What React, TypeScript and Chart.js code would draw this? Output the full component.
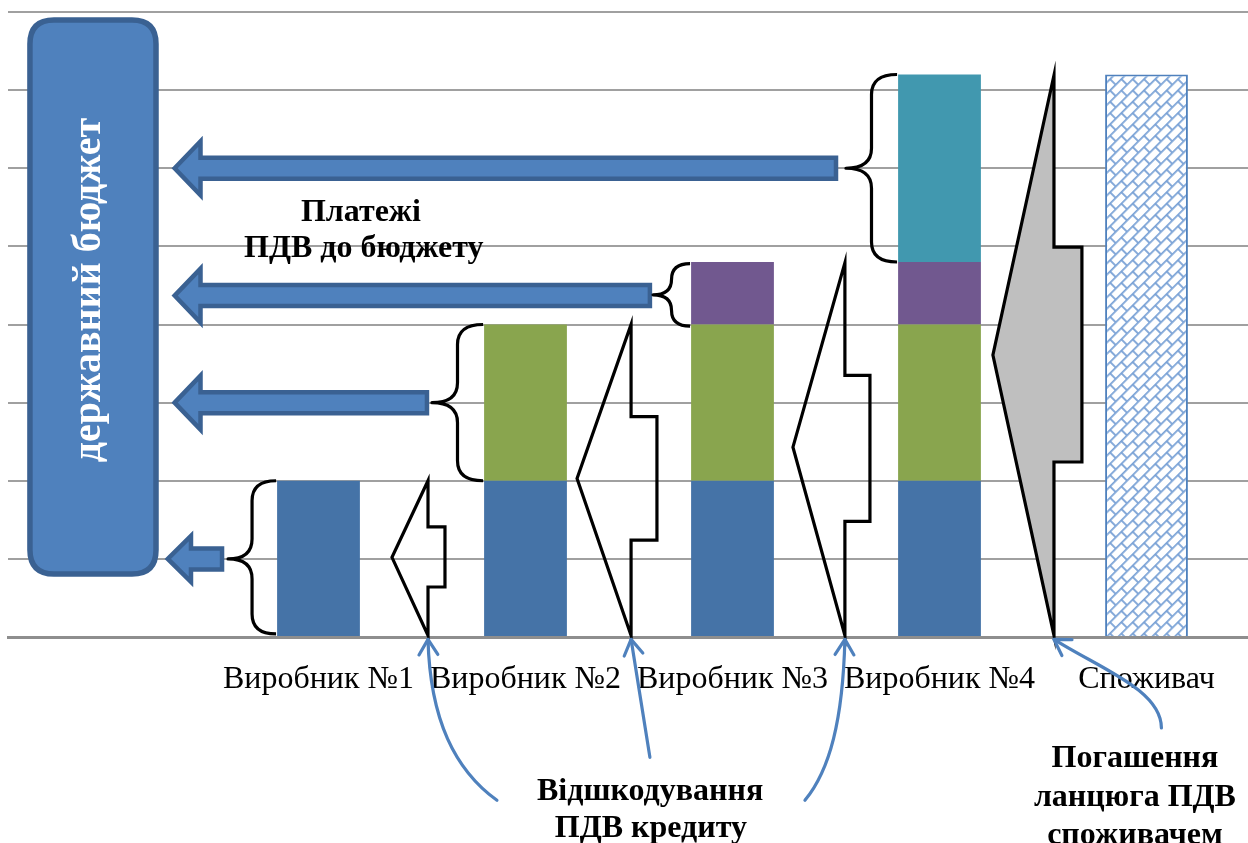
import React, { useEffect, useRef } from "react";
import { Chart, registerables } from "chart.js";

Chart.register(...registerables);

// ---------- data ----------
const categories = ["", "Виробник №1", "Виробник №2", "Виробник №3", "Виробник №4", "Споживач"];
const stage1Values = [null, 2, 2, 2, 2, null];
const stage2Values = [null, null, 2, 2, 2, null];
const stage3Values = [null, null, null, 0.8, 0.8, null];
const stage4Values = [null, null, null, null, 2.4, null];
const consumerValues = [null, null, null, null, null, 7.2];
const yMin = 0;
const yMax = 8;
const yStep = 1;

const budgetLabel = "державний бюджет";
const paymentsLabel = ["Платежі", "ПДВ до бюджету"];
const refundLabel = ["Відшкодування", "ПДВ кредиту"];
const consumerLabel = ["Погашення", "ланцюга ПДВ", "споживачем"];

const SERIF = "'Times New Roman', 'Liberation Serif', serif";

function makeHatch(): CanvasPattern | string {
  const c = document.createElement("canvas");
  c.width = 16;
  c.height = 16;
  const g = c.getContext("2d");
  if (!g) return "#ffffff";
  g.fillStyle = "#ffffff";
  g.fillRect(0, 0, 16, 16);
  g.strokeStyle = "#7aa2d6";
  g.lineWidth = 1.8;
  g.beginPath();
  g.moveTo(0, 0.9);
  g.lineTo(16, 0.9);
  g.moveTo(0, 8.9);
  g.lineTo(16, 8.9);
  g.moveTo(1, 0);
  g.lineTo(1, 8.9);
  g.moveTo(9, 8.9);
  g.lineTo(9, 16);
  g.stroke();
  const p = g.createPattern(c, "repeat");
  if (!p) return "#ffffff";
  try {
    p.setTransform(new DOMMatrix().rotateSelf(0, 0, -45));
  } catch (e) {
    /* ignore */
  }
  return p;
}

const diagramPlugin = {
  id: "vatDiagram",
  afterDatasetsDraw(chart: any) {
    const ctx: CanvasRenderingContext2D = chart.ctx;
    const xs = chart.scales.x;
    const ys = chart.scales.y;
    const X = (i: number) => xs.getPixelForValue(i);
    const Y = (v: number) => ys.getPixelForValue(v);

    ctx.save();
    ctx.lineJoin = "miter";

    // --- budget box ---
    {
      const x0 = X(-0.394), x1 = X(0.215), y0 = Y(7.898), y1 = Y(0.806);
      const r = 24;
      ctx.beginPath();
      ctx.moveTo(x0 + r, y0);
      ctx.lineTo(x1 - r, y0);
      ctx.quadraticCurveTo(x1, y0, x1, y0 + r);
      ctx.lineTo(x1, y1 - r);
      ctx.quadraticCurveTo(x1, y1, x1 - r, y1);
      ctx.lineTo(x0 + r, y1);
      ctx.quadraticCurveTo(x0, y1, x0, y1 - r);
      ctx.lineTo(x0, y0 + r);
      ctx.quadraticCurveTo(x0, y0, x0 + r, y0);
      ctx.closePath();
      ctx.fillStyle = "#4f81bd";
      ctx.fill();
      ctx.lineWidth = 5.5;
      ctx.strokeStyle = "#3a6192";
      ctx.stroke();

      ctx.save();
      ctx.translate(X(-0.104), Y(4.44));
      ctx.rotate(-Math.PI / 2);
      ctx.fillStyle = "#ffffff";
      ctx.font = `bold 40px ${SERIF}`;
      ctx.textAlign = "center";
      ctx.textBaseline = "middle";
      ctx.fillText(budgetLabel, 0, 0);
      ctx.restore();
    }

    // --- block arrows to budget ---
    const arrows = [
      { tip: 0.305, base: 0.43, end: 3.5, v: 6.0, head: 27, shaft: 10.5 },
      { tip: 0.305, base: 0.43, end: 2.601, v: 4.37, head: 27, shaft: 10.5 },
      { tip: 0.305, base: 0.43, end: 1.524, v: 3.0, head: 27, shaft: 10.5 },
      { tip: 0.272, base: 0.384, end: 0.534, v: 1.0, head: 23, shaft: 10.5 },
    ];
    arrows.forEach((a) => {
      const tx = X(a.tip), bx = X(a.base), ex = X(a.end), yc = Y(a.v);
      ctx.beginPath();
      ctx.moveTo(tx, yc);
      ctx.lineTo(bx, yc - a.head);
      ctx.lineTo(bx, yc - a.shaft);
      ctx.lineTo(ex, yc - a.shaft);
      ctx.lineTo(ex, yc + a.shaft);
      ctx.lineTo(bx, yc + a.shaft);
      ctx.lineTo(bx, yc + a.head);
      ctx.closePath();
      ctx.fillStyle = "#4f81bd";
      ctx.fill();
      ctx.lineWidth = 4.5;
      ctx.strokeStyle = "#3a6192";
      ctx.stroke();
    });

    // --- curly braces ---
    const braces = [
      { point: 0.563, tip: 0.795, top: 2.0, bot: 0.04, mid: 1.0 },
      { point: 1.548, tip: 1.795, top: 4.0, bot: 2.0, mid: 3.0 },
      { point: 2.616, tip: 2.795, top: 4.78, bot: 3.98, mid: 4.38 },
      { point: 3.548, tip: 3.795, top: 7.2, bot: 4.8, mid: 6.0 },
    ];
    ctx.strokeStyle = "#000000";
    ctx.lineWidth = 3.2;
    ctx.lineJoin = "round";
    braces.forEach((b) => {
      const xp = X(b.point), xt = X(b.tip);
      const yt = Y(b.top), yb = Y(b.bot), ym = Y(b.mid);
      const xsp = (xp + xt) / 2;
      const r = Math.min(20, (yb - yt) / 4);
      ctx.beginPath();
      ctx.moveTo(xt, yt);
      ctx.quadraticCurveTo(xsp, yt, xsp, yt + r);
      ctx.lineTo(xsp, ym - r);
      ctx.quadraticCurveTo(xsp, ym, xp, ym);
      ctx.quadraticCurveTo(xsp, ym, xsp, ym + r);
      ctx.lineTo(xsp, yb - r);
      ctx.quadraticCurveTo(xsp, yb, xt, yb);
      ctx.stroke();
    });

    // --- pentagon (credit) shapes ---
    const shapes = [
      { line: 1.529, tip: 1.355, tipV: 1.02, top: 2.0, bot: 0.02, notch: 1.611, nTop: 1.41, nBot: 0.64, fill: null },
      { line: 2.51, tip: 2.249, tipV: 2.03, top: 4.0, bot: 0.02, notch: 2.635, nTop: 2.82, nBot: 1.24, fill: null },
      { line: 3.543, tip: 3.292, tipV: 2.43, top: 4.79, bot: 0.02, notch: 3.664, nTop: 3.35, nBot: 1.48, fill: null },
      { line: 4.553, tip: 4.258, tipV: 3.61, top: 7.19, bot: 0.02, notch: 4.688, nTop: 4.99, nBot: 2.24, fill: "#bfbfbf" },
    ];
    ctx.lineJoin = "miter";
    shapes.forEach((s) => {
      const lx = X(s.line), tx = X(s.tip), nx = X(s.notch);
      ctx.beginPath();
      ctx.moveTo(lx, Y(s.top));
      ctx.lineTo(lx, Y(s.nTop));
      ctx.lineTo(nx, Y(s.nTop));
      ctx.lineTo(nx, Y(s.nBot));
      ctx.lineTo(lx, Y(s.nBot));
      ctx.lineTo(lx, Y(s.bot));
      ctx.lineTo(tx, Y(s.tipV));
      ctx.closePath();
      if (s.fill) {
        ctx.fillStyle = s.fill;
        ctx.fill();
      }
      ctx.lineWidth = 3.2;
      ctx.strokeStyle = "#000000";
      ctx.stroke();
    });

    // --- curved pointer arrows ---
    const curves = [
      [[1.862, -2.09], [1.659, -1.7], [1.539, -1.06], [1.529, -0.03]],
      [[2.601, -1.54], [2.57, -1.03], [2.54, -0.52], [2.51, -0.03]],
      [[3.35, -2.09], [3.471, -1.7], [3.533, -1.06], [3.543, -0.03]],
      [[5.072, -1.165], [5.072, -0.678], [4.773, -0.4], [4.553, -0.03]],
    ];
    ctx.strokeStyle = "#4f81bd";
    ctx.lineWidth = 3.2;
    ctx.lineCap = "round";
    ctx.lineJoin = "round";
    curves.forEach((c) => {
      const p = c.map(([i, v]) => [X(i), Y(v)]);
      ctx.beginPath();
      ctx.moveTo(p[0][0], p[0][1]);
      ctx.bezierCurveTo(p[1][0], p[1][1], p[2][0], p[2][1], p[3][0], p[3][1]);
      ctx.stroke();
      const ang = Math.atan2(p[3][1] - p[2][1], p[3][0] - p[2][0]);
      const L = 18;
      const spread = 0.55;
      ctx.beginPath();
      ctx.moveTo(p[3][0] - L * Math.cos(ang - spread), p[3][1] - L * Math.sin(ang - spread));
      ctx.lineTo(p[3][0], p[3][1]);
      ctx.lineTo(p[3][0] - L * Math.cos(ang + spread), p[3][1] - L * Math.sin(ang + spread));
      ctx.stroke();
    });

    // --- bold captions ---
    ctx.fillStyle = "#000000";
    ctx.font = `bold 32px ${SERIF}`;
    ctx.textAlign = "center";
    ctx.textBaseline = "middle";
    const capt = [
      { t: paymentsLabel[0], i: 1.205, v: 5.43 },
      { t: paymentsLabel[1], i: 1.219, v: 4.97 },
      { t: refundLabel[0], i: 2.602, v: -1.98 },
      { t: refundLabel[1], i: 2.606, v: -2.46 },
      { t: consumerLabel[0], i: 4.944, v: -1.56 },
      { t: consumerLabel[1], i: 4.944, v: -2.06 },
      { t: consumerLabel[2], i: 4.944, v: -2.54 },
    ];
    capt.forEach((c) => ctx.fillText(c.t, X(c.i), Y(c.v)));

    ctx.restore();
  },
};

export default function App() {
  const ref = useRef<HTMLCanvasElement | null>(null);

  useEffect(() => {
    if (!ref.current) return;
    const hatch = makeHatch();
    const chart = new Chart(ref.current, {
      type: "bar",
      data: {
        labels: categories,
        datasets: [
          { label: "s1", data: stage1Values, backgroundColor: "#4573a7", stack: "a" },
          { label: "s2", data: stage2Values, backgroundColor: "#89a54e", stack: "a" },
          { label: "s3", data: stage3Values, backgroundColor: "#71588f", stack: "a" },
          { label: "s4", data: stage4Values, backgroundColor: "#4198af", stack: "a" },
          {
            label: "consumer",
            data: consumerValues,
            backgroundColor: hatch as any,
            borderColor: "#4f81bd",
            borderWidth: 2,
            stack: "a",
          },
        ] as any,
      },
      options: {
        animation: false,
        responsive: false,
        devicePixelRatio: 1,
        layout: { padding: { left: 8, top: 12, right: 0, bottom: 0 } },
        datasets: { bar: { barPercentage: 0.4, categoryPercentage: 1 } },
        plugins: { legend: { display: false }, tooltip: { enabled: false } },
        scales: {
          x: {
            stacked: true,
            grid: { display: false, drawTicks: false },
            border: { display: true, color: "#8e8e8e", width: 3 },
            ticks: {
              color: "#000000",
              font: { family: SERIF, size: 32 },
              padding: 23,
              maxRotation: 0,
              autoSkip: false,
            },
            afterFit: (s: any) => {
              s.height = 206;
            },
          },
          y: {
            stacked: true,
            min: yMin,
            max: yMax,
            grid: { color: "#a0a0a0", lineWidth: 2, drawTicks: false },
            border: { display: false },
            ticks: { display: false, stepSize: yStep },
            afterFit: (s: any) => {
              s.width = 0;
            },
          },
        },
      } as any,
      plugins: [diagramPlugin],
    });
    return () => chart.destroy();
  }, []);

  return (
    <div
      style={{
        position: "fixed",
        left: 0,
        top: 0,
        width: 1248,
        height: 843,
        overflow: "hidden",
        background: "#ffffff",
      }}
    >
      <canvas ref={ref} width={1250} height={843} style={{ display: "block" }} />
    </div>
  );
}
